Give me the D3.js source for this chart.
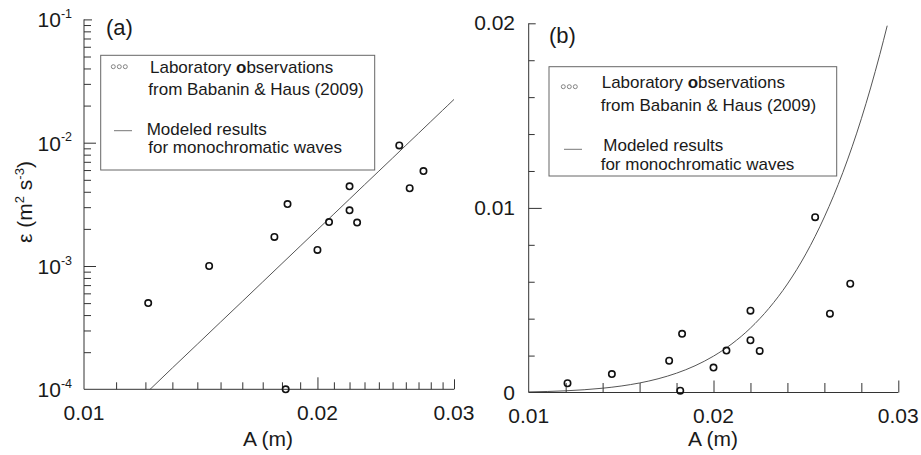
<!DOCTYPE html>
<html>
<head>
<meta charset="utf-8">
<script src="https://cdn.jsdelivr.net/npm/d3@7"></script>
<style>
  body { margin: 0; background: #fff; }
  svg { display: block; font-family: "Liberation Sans", Arial, sans-serif; }
  text { fill: #1a1a1a; }
</style>
</head>
<body>
<svg id="chart" width="921" height="455"></svg>
<script>
// observations, Babanin & Haus (2009)
const obsA = [0.0121, 0.0145, 0.0176, 0.0183, 0.0182, 0.0200, 0.0207, 0.0220, 0.0220, 0.0225, 0.0255, 0.0263, 0.0274];
const obsEps = [0.0005, 0.001, 0.00172, 0.00318, 0.0001, 0.00135, 0.00227, 0.00443, 0.00283, 0.00225, 0.0095, 0.00427, 0.00589];

// modeled curve
const modelA = [0.010, 0.011, 0.012, 0.013, 0.014, 0.015, 0.016, 0.017, 0.018, 0.019, 0.020,
  0.021, 0.022, 0.023, 0.024, 0.025, 0.026, 0.027, 0.028, 0.029, 0.0294, 0.030];
const modelEps = [3.08e-5, 5.45e-5, 9.19e-5, 1.49e-4, 2.32e-4, 3.51e-4, 5.16e-4, 7.43e-4, 1.047e-3, 1.448e-3, 1.97e-3,
  2.64e-3, 3.49e-3, 4.56e-3, 5.88e-3, 7.51e-3, 9.51e-3, 1.192e-2, 1.483e-2, 1.831e-2, 1.987e-2, 2.244e-2];
const modelEndB = 0.0294;

// tick labels
const xTicks = [0.01, 0.02, 0.03];
const yTicksA = [1e-4, 1e-3, 1e-2, 1e-1];
const yExpA = ["-4", "-3", "-2", "-1"];
const yTicksB = [0, 0.01, 0.02];
const yLabelsB = ["0", "0.01", "0.02"];

const legendLines = ["Laboratory observations", "from Babanin & Haus (2009)", "Modeled results", "for monochromatic waves"];

const obs = obsA.map((a, i) => ({ A: a, e: obsEps[i] }));
const model = modelA.map((a, i) => ({ A: a, e: modelEps[i] }));

const svg = d3.select("#chart");
const axisColor = "#333";

function tickLines(g, axis, values, size) {
  g.append("g")
    .call(axis.tickValues(values).tickSizeInner(-size).tickSizeOuter(0).tickFormat(""))
    .call(s => s.select(".domain").remove())
    .call(s => s.selectAll("line").attr("stroke", axisColor));
}

function frame(g, x, y) {
  const [x0, x1] = x.range();
  const [y0, y1] = y.range();
  g.append("line").attr("x1", x0).attr("x2", x0).attr("y1", y0).attr("y2", y1).attr("stroke", axisColor);
  g.append("line").attr("x1", x0).attr("x2", x1).attr("y1", y0).attr("y2", y0).attr("stroke", axisColor);
}

function legend(g, box, sym, rows) {
  g.append("rect").attr("x", box[0]).attr("y", box[1]).attr("width", box[2]).attr("height", box[3])
    .attr("fill", "#fff").attr("stroke", "#666");
  [0, 6, 12].forEach(dx => {
    g.append("circle").attr("cx", sym.cx + dx).attr("cy", sym.cy).attr("r", 2)
      .attr("fill", "none").attr("stroke", "#777").attr("stroke-width", 0.9);
  });
  g.append("line").attr("x1", sym.lx).attr("x2", sym.lx + 18).attr("y1", sym.ly).attr("y2", sym.ly)
    .attr("stroke", "#777");
  rows.forEach((r, i) => {
    const t = g.append("text").attr("x", r[0]).attr("y", r[1]).attr("font-size", 17);
    if (i === 0) {
      t.append("tspan").text("Laboratory ");
      t.append("tspan").attr("font-weight", "bold").text("o");
      t.append("tspan").text("bservations");
    } else {
      t.text(legendLines[i]);
    }
  });
}

// ---------- panel (a): log-log ----------
const xa = d3.scaleLog().domain([0.01, 0.03]).range([84, 454]);
const ya = d3.scaleLog().domain([1e-4, 1e-1]).range([389.3, 19.4]);
const ga = svg.append("g");

svg.append("clipPath").attr("id", "clipA").append("rect")
  .attr("x", 84).attr("y", 19.4).attr("width", 370).attr("height", 370);

ga.append("path")
  .datum(model)
  .attr("clip-path", "url(#clipA)")
  .attr("fill", "none")
  .attr("stroke", "#555")
  .attr("stroke-width", 1)
  .attr("d", d3.line().x(d => xa(d.A)).y(d => ya(d.e)));

const gaxA = ga.append("g");
const yMinorA = ya.ticks().filter(v => !yTicksA.includes(+v.toPrecision(3)));
tickLines(gaxA.append("g").attr("transform", "translate(84,0)"), d3.axisLeft(ya), yMinorA, 7);
tickLines(gaxA.append("g").attr("transform", "translate(84,0)"), d3.axisLeft(ya), [1e-3, 1e-2], 12);
tickLines(gaxA.append("g").attr("transform", "translate(84,0)"), d3.axisLeft(ya), [1e-1], 8);
const xMinorA = d3.range(11, 30).map(v => v / 1000).filter(v => Math.abs(v - 0.02) > 1e-9);
tickLines(gaxA.append("g").attr("transform", "translate(0,389.3)"), d3.axisBottom(xa), xMinorA, 7);
tickLines(gaxA.append("g").attr("transform", "translate(0,389.3)"), d3.axisBottom(xa), [0.02], 12);
tickLines(gaxA.append("g").attr("transform", "translate(0,389.3)"), d3.axisBottom(xa), [0.03], 10);
frame(gaxA, xa, ya);

yTicksA.forEach((v, i) => {
  const t = ga.append("text").attr("x", 72).attr("y", ya(v) + 8).attr("text-anchor", "end").attr("font-size", 21);
  t.append("tspan").text("10");
  t.append("tspan").attr("font-size", 12.5).attr("dy", -9.5).text(yExpA[i]);
});
xTicks.forEach(v => {
  ga.append("text").attr("x", xa(v)).attr("y", 420).attr("text-anchor", "middle").attr("font-size", 21)
    .text(d3.format(".2f")(v));
});

ga.append("text").attr("x", 268).attr("y", 446).attr("text-anchor", "middle").attr("font-size", 21).text("A (m)");
const yt = ga.append("text").attr("transform", "translate(32,202) rotate(-90)")
  .attr("text-anchor", "middle").attr("font-size", 21);
yt.append("tspan").text("ε (m");
yt.append("tspan").attr("font-size", 13).attr("dy", -8).text("2");
yt.append("tspan").attr("dy", 8).text(" s");
yt.append("tspan").attr("font-size", 13).attr("dy", -8).text("-3");
yt.append("tspan").attr("dy", 8).text(")");
ga.append("text").attr("x", 106).attr("y", 35).attr("font-size", 22).text("(a)");

legend(ga, [100.7, 55.3, 274, 114.7], { cx: 113.3, cy: 66.7, lx: 114, ly: 130.7 },
  [[150, 72.5], [148.3, 95], [146.7, 135], [148.3, 153]]);

ga.append("g").selectAll("circle")
  .data(obs)
  .join("circle")
  .attr("cx", d => xa(d.A))
  .attr("cy", d => ya(d.e))
  .attr("r", 3.2)
  .attr("fill", "none")
  .attr("stroke", "#111")
  .attr("stroke-width", 1.6);

// ---------- panel (b): linear ----------
const xb = d3.scaleLinear().domain([0.01, 0.03]).range([528.7, 898.3]);
const yb = d3.scaleLinear().domain([0, 0.02]).range([392.5, 23.3]);
const gb = svg.append("g");

gb.append("path")
  .datum(model.filter(d => d.A <= modelEndB))
  .attr("fill", "none")
  .attr("stroke", "#555")
  .attr("stroke-width", 1)
  .attr("d", d3.line().x(d => xb(d.A)).y(d => yb(d.e)).curve(d3.curveMonotoneX));

const gaxB = gb.append("g");
const yMinorB = d3.range(1, 10).map(v => v * 0.002).filter(v => Math.abs(v - 0.01) > 1e-9);
tickLines(gaxB.append("g").attr("transform", "translate(528.7,0)"), d3.axisLeft(yb), yMinorB, 6);
tickLines(gaxB.append("g").attr("transform", "translate(528.7,0)"), d3.axisLeft(yb), [0.01], 13);
tickLines(gaxB.append("g").attr("transform", "translate(528.7,0)"), d3.axisLeft(yb), [0.02], 7);
const xMinorB = d3.range(6, 15).map(v => v * 0.002).filter(v => Math.abs(v - 0.02) > 1e-9);
tickLines(gaxB.append("g").attr("transform", "translate(0,392.5)"), d3.axisBottom(xb), xMinorB, 9.5);
tickLines(gaxB.append("g").attr("transform", "translate(0,392.5)"), d3.axisBottom(xb), [0.02, 0.03], 12);
frame(gaxB, xb, yb);

yTicksB.forEach((v, i) => {
  gb.append("text").attr("x", 515).attr("y", yb(v) + 7).attr("text-anchor", "end").attr("font-size", 21)
    .text(yLabelsB[i]);
});
xTicks.forEach(v => {
  gb.append("text").attr("x", xb(v)).attr("y", 423).attr("text-anchor", "middle").attr("font-size", 21)
    .text(d3.format(".2f")(v));
});
gb.append("text").attr("x", 713).attr("y", 446).attr("text-anchor", "middle").attr("font-size", 21).text("A (m)");
gb.append("text").attr("x", 549).attr("y", 43).attr("font-size", 22).text("(b)");

legend(gb, [549, 66.7, 287.7, 109.3], { cx: 563.3, cy: 86.7, lx: 564, ly: 149.3 },
  [[601.7, 88], [600.7, 111], [603.3, 151], [600.7, 170]]);

gb.append("g").selectAll("circle")
  .data(obs)
  .join("circle")
  .attr("cx", d => xb(d.A))
  .attr("cy", d => yb(d.e))
  .attr("r", 3.2)
  .attr("fill", "none")
  .attr("stroke", "#111")
  .attr("stroke-width", 1.6);
</script>
</body>
</html>
